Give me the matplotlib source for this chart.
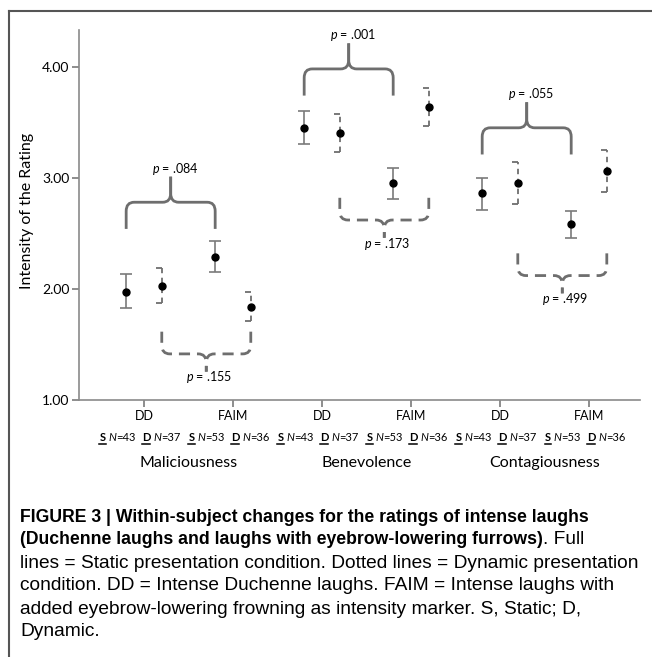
import matplotlib
matplotlib.use('Agg')
import matplotlib.pyplot as plt
from matplotlib.path import Path
from matplotlib.patches import PathPatch
from matplotlib.lines import Line2D
import numpy as np

# Dane
categories = ['Maliciousness', 'Benevolence', 'Contagiousness']
conditions = ['DD', 'FAIM']

static_mean = [1.97, 2.29, 3.45, 2.95, 2.86, 2.58]
static_lo = [1.83, 2.15, 3.30, 2.81, 2.71, 2.46]
static_hi = [2.13, 2.43, 3.60, 3.09, 3.00, 2.70]

dynamic_mean = [2.03, 1.84, 3.40, 3.64, 2.95, 3.06]
dynamic_lo = [1.87, 1.71, 3.23, 3.47, 2.76, 2.87]
dynamic_hi = [2.19, 1.97, 3.57, 3.81, 3.14, 3.25]

n_static = [43, 53, 43, 53, 43, 53]
n_dynamic = [37, 36, 37, 36, 37, 36]

p_static = ['.084', '.001', '.055']
p_dynamic = ['.155', '.173', '.499']
brace_static_y = [2.54, 3.74, 3.21]
brace_dynamic_y = [1.615, 2.82, 2.32]

caption_bold_1 = 'FIGURE 3 | Within-subject changes for the ratings of intense laughs'
caption_bold_2 = '(Duchenne laughs and laughs with eyebrow-lowering furrows)'
caption_rest_2 = '. Full'
caption_lines = [
    'lines = Static presentation condition. Dotted lines = Dynamic presentation',
    'condition. DD = Intense Duchenne laughs. FAIM = Intense laughs with',
    'added eyebrow-lowering frowning as intensity marker. S, Static; D,',
    'Dynamic.',
]

plt.rcParams['font.family'] = ['Lato', 'DejaVu Sans']
plt.rcParams['mathtext.fontset'] = 'custom'
plt.rcParams['mathtext.rm'] = 'Lato'
plt.rcParams['mathtext.it'] = 'Lato:italic'
plt.rcParams['mathtext.bf'] = 'Lato:bold'

W, H = 652, 657
fig = plt.figure(figsize=(W / 100, H / 100), dpi=100)
ax = fig.add_axes([79 / W, 1 - 400 / H, (640 - 79) / W, 370 / H])

gray = '#7a7a7a'
bgray = '#6e6e6e'
off = 0.2
ticks = np.arange(1, 7)
xs = ticks - off
xd = ticks + off

# statyczne - linie ciągłe
ax.vlines(xs, static_lo, static_hi, color=gray, lw=1.2)
ax.hlines(static_lo, xs - 0.07, xs + 0.07, color=gray, lw=1.2)
ax.hlines(static_hi, xs - 0.07, xs + 0.07, color=gray, lw=1.2)
ax.plot(xs, static_mean, 'o', color='black', ms=5, zorder=5)

# dynamiczne - linie przerywane
ax.vlines(xd, dynamic_lo, dynamic_hi, color=bgray, lw=1.3, linestyles=(0, (3, 2.5)))
ax.hlines(dynamic_lo, xd - 0.06, xd, color=bgray, lw=1.3)
ax.hlines(dynamic_hi, xd - 0.06, xd, color=bgray, lw=1.3)
ax.plot(xd, dynamic_mean, 'o', color='black', ms=5, zorder=5)


def brace(x0, x1, y_end, up, ls):
    s = 1 if up else -1
    dh = 0.24 if up else 0.20
    dt = 0.47 if up else 0.36
    xm = (x0 + x1) / 2
    yh = y_end + s * dh
    yt = y_end + s * dt
    rx, ry = 0.09, 0.08 * s
    for xe, d in ((x0, 1), (x1, -1)):
        verts = [(xe, y_end), (xe, yh - ry), (xe, yh), (xe + d * rx, yh),
                 (xm - d * rx, yh), (xm, yh), (xm, yh + ry), (xm, yt)]
        codes = [Path.MOVETO, Path.LINETO, Path.CURVE3, Path.CURVE3,
                 Path.LINETO, Path.CURVE3, Path.CURVE3, Path.LINETO]
        ax.add_patch(PathPatch(Path(verts, codes), fill=False, ec=bgray,
                               lw=2, ls=ls, capstyle='butt'))
    return xm, yt


for i in range(3):
    a, b = 2 * i, 2 * i + 1
    xm, yt = brace(xs[a], xs[b], brace_static_y[i], True, '-')
    ax.text(xm + 0.05, yt, '$p$ = ' + p_static[i], ha='center', va='bottom', fontsize=9)
    xm, yt = brace(xd[a], xd[b], brace_dynamic_y[i], False, (0, (4, 2.5)))
    ax.text(xm + 0.03, yt + 0.02, '$p$ = ' + p_dynamic[i], ha='center', va='top', fontsize=9)

ax.set_xlim(0.27, 6.573)
ax.set_ylim(1, 1 + 370 / 111.1)
ax.set_yticks([1, 2, 3, 4])
ax.set_yticklabels(['1.00', '2.00', '3.00', '4.00'])
ax.set_xticks(ticks)
ax.set_xticklabels(conditions * 3)
ax.tick_params(axis='both', color=gray, length=5, width=1.2, pad=2)
ax.tick_params(axis='x', labelsize=9)
ax.tick_params(axis='y', labelsize=10)
for side in ['top', 'right']:
    ax.spines[side].set_visible(False)
for side in ['left', 'bottom']:
    ax.spines[side].set_color('#8a8a8a')
    ax.spines[side].set_linewidth(1.2)

tr = ax.get_xaxis_transform()
for i, c in enumerate(categories):
    ax.text(2 * i + 1.5, -0.17, c, transform=tr, ha='center', va='center', fontsize=11.5)

fig.text(27 / W, 1 - 211 / H, 'Intensity of the Rating', rotation=90,
         ha='center', va='center', fontsize=11.5)

# Ramka
fig.add_artist(Line2D([9 / W, 1], [1 - 11 / H] * 2, color='#555555', lw=1.5))
fig.add_artist(Line2D([9 / W] * 2, [0, 1 - 11 / H], color='#555555', lw=1.5))

fig.canvas.draw()
rend = fig.canvas.get_renderer()

# Etykiety N pod osią (S i D pogrubione i podkreślone); (tekst, waga, styl, podkreślenie, odstęp po)
yb = H - 441  # linia bazowa w pikselach
for i, t in enumerate(ticks):
    pieces = [('S', 'bold', 'normal', True, 3), ('N', 'normal', 'italic', False, 0),
              ('=%d' % n_static[i], 'normal', 'normal', False, 6),
              ('D', 'bold', 'normal', True, 3), ('N', 'normal', 'italic', False, 0),
              ('=%d' % n_dynamic[i], 'normal', 'normal', False, 0)]
    arts = []
    for txt, wgt, sty, ul, gap in pieces:
        a = fig.text(0, yb / H, txt, fontsize=8, fontweight=wgt, fontstyle=sty, va='baseline')
        w = a.get_window_extent(renderer=rend).width
        arts.append((a, w, ul, gap))
    total = sum(w + g for _, w, _, g in arts)
    xc = ax.transData.transform((t, 1))[0] - 4
    xp = xc - total / 2
    for a, w, ul, gap in arts:
        a.set_x(xp / W)
        if ul:
            fig.add_artist(Line2D([xp / W, (xp + w) / W], [(yb - 2.5) / H] * 2,
                                  color='black', lw=1.1))
        xp += w + gap

# Podpis
cap_font = ['Liberation Sans', 'DejaVu Sans']
x0 = 20 / W
fs_b, fs_r = 12.7, 13.8
fig.text(x0, 1 - 517 / H, caption_bold_1, fontsize=fs_b, fontweight='bold',
         family=cap_font, va='center')
t2 = fig.text(x0, 1 - 540 / H, caption_bold_2, fontsize=fs_b, fontweight='bold',
              family=cap_font, va='center')
bb = t2.get_window_extent(renderer=rend)
fig.text(bb.x1 / W, 1 - 540 / H, caption_rest_2, fontsize=fs_r, family=cap_font, va='center')
for k, line in enumerate(caption_lines):
    fig.text(x0, 1 - (563 + 23 * k) / H, line, fontsize=fs_r, family=cap_font, va='center')

plt.savefig('out.png', dpi=100)
